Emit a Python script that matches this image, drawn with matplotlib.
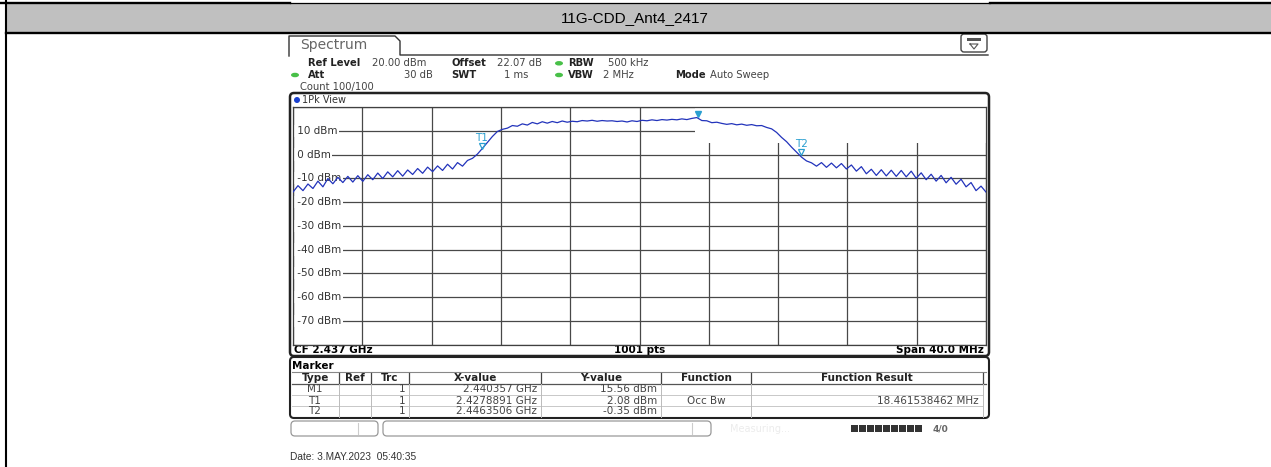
import numpy as np
import matplotlib.pyplot as plt
import matplotlib.transforms as mtransforms
from matplotlib.patches import Rectangle, FancyBboxPatch, Ellipse

title = '11G-CDD_Ant4_2417'

# analyzer settings
cf_ghz = 2.437
span_mhz = 40.0
n_pts = 1001
ref_level = 20.0
y_bottom = -80.0

# trace (dBm), left to right across the span
trace_dbm = [
    -15.8, -13.1, -15.2, -12.4, -14.3, -11.2, -13.6, -10.1, -12.3, -9.6,
    -11.8, -9.2, -11.6, -8.9, -11.3, -8.5, -10.6, -7.8, -10.1, -7.3,
    -9.4, -6.8, -9.1, -6.5, -8.4, -5.9, -7.9, -5.3, -7.2, -4.8,
    -6.7, -4.1, -6.1, -3.4, -4.9, -2.5, -1.6, 0.2, 2.6, 5.1,
    7.6, 9.7, 10.6, 11.1, 12.2, 11.9, 12.9, 12.4, 13.5, 12.9,
    13.8, 13.2, 13.9, 13.4, 14.1, 13.6, 14.0, 13.8, 14.3, 14.1,
    14.4, 14.0, 14.3, 14.1, 14.2, 13.9, 14.1, 13.7, 14.2, 13.9,
    14.4, 14.2, 14.6, 14.3, 14.7, 14.5, 14.8, 14.6, 15.0, 14.7,
    15.2, 15.56, 14.3, 14.2, 13.4, 13.6, 13.1, 12.7, 13.0, 12.5,
    12.8, 12.3, 12.6, 12.1, 12.2, 11.4, 10.8, 9.3, 7.2, 5.4,
    3.1, 1.0, -1.1, -2.7, -3.5, -4.9, -3.4, -5.4, -3.6, -5.6,
    -3.8, -6.1, -4.4, -7.0, -5.1, -8.1, -6.2, -8.8, -6.4, -9.0,
    -6.6, -9.2, -6.7, -9.4, -7.0, -10.0, -7.7, -10.6, -8.3, -11.2,
    -8.8, -11.9, -9.6, -12.5, -10.4, -13.6, -11.8, -15.2, -13.3, -15.8,
]

ylabels = [10, 0, -10, -20, -30, -40, -50, -60, -70]

marker_names = ['M1', 'T1', 'T2']
marker_freq = [2.440357, 2.4278891, 2.4463506]
marker_dbm = [15.56, 2.08, -0.35]
marker_x_txt = ['2.440357 GHz', '2.4278891 GHz', '2.4463506 GHz']
occ_bw = '18.461538462 MHz'

f_start = cf_ghz - span_mhz / 2000
f_stop = cf_ghz + span_mhz / 2000
freq = np.linspace(f_start, f_stop, len(trace_dbm))

W, H = 1271, 467
teal = '#2a9fd0'
green = '#48c048'

fig = plt.figure(figsize=(W / 100, H / 100), dpi=100)
bg = fig.add_axes([0, 0, 1, 1])
bg.set_xlim(0, W)
bg.set_ylim(H, 0)
bg.axis('off')


def px(x0, y0, x1, y1):
    return [x0 / W, 1 - y1 / H, (x1 - x0) / W, (y1 - y0) / H]


# table cell header
bg.add_patch(Rectangle((6, 4), W - 6, 28, fc='#c0c0c0', ec='none'))
bg.plot([0, 290], [3, 3], color='black', lw=1.7)
bg.plot([290, 990], [3.3, 3.3], color='black', lw=0.9)
bg.plot([990, W], [3, 3], color='black', lw=1.7)
bg.plot([6, W], [32.8, 32.8], color='black', lw=1.7)
bg.plot([6, 6], [0, H], color='black', lw=1.5)
bg.text(635, 18, title, ha='center', va='center', fontsize=11, family='Liberation Sans')

# spectrum tab
bg.plot([289, 289, 395, 400, 400, 988], [56, 36, 36, 41, 55, 55], color='#333', lw=1)
bg.text(300, 45, 'Spectrum', ha='left', va='center', fontsize=10, color='#666')
bg.add_patch(FancyBboxPatch((961, 34), 26, 18, boxstyle='round,pad=0,rounding_size=3',
                            fc='white', ec='#444', lw=1))
bg.add_patch(Rectangle((967, 37.5), 14, 3.5, fc='#555', ec='none'))
bg.plot([970, 978, 974, 970], [44, 44, 49, 44], color='#555', lw=0.8)

# settings lines
lab = dict(fontsize=7.2, fontweight='bold', color='#222', va='center')
val = dict(fontsize=7.2, color='#444', va='center')
bg.text(308, 63.3, 'Ref Level', **lab)
bg.text(372, 63.3, '%.2f dBm' % ref_level, **val)
bg.text(451, 63.3, 'Offset', **lab)
bg.text(497, 63.3, '22.07 dB', **val)
bg.text(568, 63.3, 'RBW', **lab)
bg.text(608, 63.3, '500 kHz', **val)
bg.text(308, 75, 'Att', **lab)
bg.text(433, 75, '30 dB', ha='right', **val)
bg.text(451, 75, 'SWT', **lab)
bg.text(528, 75, '1 ms', ha='right', **val)
bg.text(568, 75, 'VBW', **lab)
bg.text(603, 75, '2 MHz', **val)
bg.text(675, 75, 'Mode', **lab)
bg.text(710, 75, 'Auto Sweep', **val)
bg.text(300, 86.7, 'Count 100/100', **val)
for ex, ey in [(559, 63.3), (295, 75), (559, 75)]:
    bg.add_patch(Ellipse((ex, ey), 8, 4.5, fc=green, ec='none'))

# trace window frame
bg.add_patch(FancyBboxPatch((290, 93), 699, 263, boxstyle='round,pad=0,rounding_size=4',
                            fc='none', ec='#222', lw=1.8, zorder=5))
bg.add_patch(Ellipse((297, 100), 6, 6, fc='#1a40d0', ec='none'))
bg.text(302, 100, '1Pk View', fontsize=7, color='#333', va='center')
bg.text(294, 349.8, 'CF %.3f GHz' % cf_ghz, fontsize=7.5, fontweight='bold', va='center')
bg.text(640, 349.8, '%d pts' % n_pts, fontsize=7.5, fontweight='bold', va='center', ha='center')
bg.text(984, 349.8, 'Span %.1f MHz' % span_mhz, fontsize=7.5, fontweight='bold',
        va='center', ha='right')

# the trace itself
ax = fig.add_axes(px(293, 107, 986, 344.6))
ax.set_xlim(f_start, f_stop)
ax.set_ylim(y_bottom, ref_level)
ax.set_xticks(np.linspace(f_start, f_stop, 11))
ax.set_yticks(np.arange(y_bottom, ref_level + 1, 10))
ax.tick_params(length=0, labelbottom=False, labelleft=False)
ax.grid(True, color='#484848', lw=0.9)
ax.set_axisbelow(True)
for s in ax.spines.values():
    s.set_color('#404040')
    s.set_linewidth(0.9)

# white area behind the marker readout
ax.add_patch(Rectangle((0.58, 0.8497), 0.42, 0.2, transform=ax.transAxes,
                       fc='white', ec='none', zorder=1.5))

ytr = mtransforms.blended_transform_factory(ax.transAxes, ax.transData)
for v in ylabels:
    ax.text(0.002, v, ' %d dBm' % v, transform=ytr, ha='left', va='center', fontsize=7.5,
            color='#333', bbox=dict(fc='white', ec='none', pad=0.8), zorder=2)

ax.plot(freq, trace_dbm, color='#2233bb', lw=0.9, zorder=3)

up = mtransforms.offset_copy(ax.transData, fig=fig, x=0, y=3.5, units='dots')
for i, name in enumerate(marker_names):
    if name == 'M1':
        ax.plot(marker_freq[i], marker_dbm[i], marker='v', ms=5, color=teal,
                transform=up, clip_on=False, zorder=4)
    else:
        ax.plot(marker_freq[i], marker_dbm[i], marker='v', ms=5, mfc='none', mec=teal,
                mew=0.9, transform=up, clip_on=False, zorder=4)
        ax.annotate(name, (marker_freq[i], marker_dbm[i]), xytext=(0, 8.5),
                    textcoords='offset points', ha='center', va='center',
                    fontsize=7.5, color=teal, zorder=4)

# marker readout
mk = dict(fontsize=7.5, fontweight='bold', color=teal, va='center')
bg.text(697, 113.3, 'M1[1]', **mk)
bg.text(697, 136.7, 'Occ Bw', **mk)
bg.text(983, 113.3, '%.2f dBm' % marker_dbm[0], ha='right', **mk)
bg.text(983, 125, '%.7f GHz' % marker_freq[0], ha='right', **mk)
bg.text(983, 136.7, occ_bw, ha='right', **mk)

# marker table
bg.add_patch(FancyBboxPatch((290, 357), 699, 61, boxstyle='round,pad=0,rounding_size=4',
                            fc='none', ec='#222', lw=1.5))
bg.text(292, 366, 'Marker', fontsize=7.5, fontweight='bold', va='center')
cols = [292, 339, 371, 409, 541, 661, 751, 983]
heads = ['Type', 'Ref', 'Trc', 'X-value', 'Y-value', 'Function', 'Function Result']
row_y = [378, 389.5, 400.5, 411.5]
bg.plot([292, 986], [372, 372], color='#888', lw=0.8)
bg.plot([292, 986], [384, 384], color='#555', lw=0.9)
for yy in [395, 406]:
    bg.plot([292, 983], [yy, yy], color='#c8c8c8', lw=0.7)
for c in cols[1:]:
    bg.plot([c, c], [373, 384], color='#444', lw=0.9)
    bg.plot([c, c], [384, 417], color='#bbb', lw=0.7)
for j, h in enumerate(heads):
    bg.text((cols[j] + cols[j + 1]) / 2, row_y[0], h, ha='center', va='center',
            fontsize=7.5, fontweight='bold', color='#222')
cell = dict(fontsize=7.5, color='#444', va='center')
for i, name in enumerate(marker_names):
    yy = row_y[i + 1]
    bg.text(315, yy, name, ha='center', **cell)
    bg.text(405, yy, '1', ha='right', **cell)
    bg.text(537, yy, marker_x_txt[i], ha='right', **cell)
    bg.text(657, yy, '%.2f dBm' % marker_dbm[i], ha='right', **cell)
bg.text(706, row_y[2], 'Occ Bw', ha='center', **cell)
bg.text(979, row_y[2], occ_bw, ha='right', **cell)

# status bar
bg.add_patch(FancyBboxPatch((291, 421), 87, 15, boxstyle='round,pad=0,rounding_size=4',
                            fc='none', ec='#999', lw=0.9))
bg.plot([358, 358], [423, 434], color='#ccc', lw=0.8)
bg.add_patch(FancyBboxPatch((383, 421), 328, 15, boxstyle='round,pad=0,rounding_size=4',
                            fc='none', ec='#999', lw=0.9))
bg.plot([692, 692], [423, 434], color='#ccc', lw=0.8)
bg.text(760, 429, 'Measuring...', fontsize=7, color='#ececec', va='center', ha='center')
for k in range(9):
    bg.add_patch(Rectangle((851 + k * 8, 425), 7, 7, fc='#333', ec='none'))
bg.text(933, 428.5, '4/0', fontsize=6.5, color='#666', va='center', fontweight='bold')

bg.text(290, 457, 'Date: 3.MAY.2023  05:40:35', fontsize=7.3, color='#333', va='center',
        family='Liberation Sans')

fig.savefig('out.png', dpi=100)
